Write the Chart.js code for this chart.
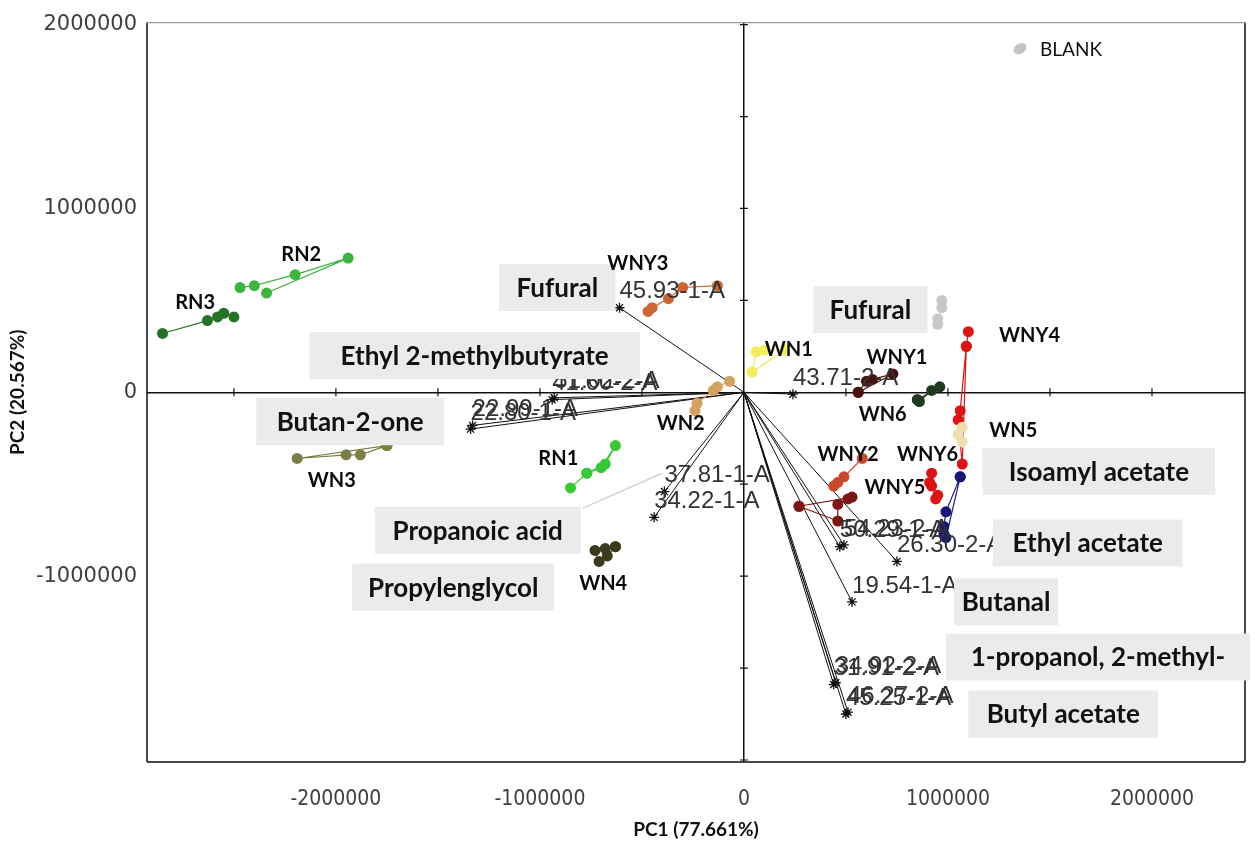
<!DOCTYPE html>
<html>
<head>
<meta charset="utf-8">
<script src="https://cdn.jsdelivr.net/npm/chart.js@4.4.0/dist/chart.umd.min.js"></script>
<style>
  html, body { margin: 0; padding: 0; background: #fff; }
  #wrap { width: 1255px; height: 845px; }
</style>
</head>
<body>
<div id="wrap"><canvas id="pca" width="1255" height="845"></canvas></div>
<script>
// sample scores [PC1, PC2]
const rn1 = [[-850000, -520000], [-770000, -440000], [-700000, -410000], [-630000, -290000], [-680000, -390000], [-770000, -440000]];
const rn2 = [[-2340000, 540000], [-1940000, 730000], [-2200000, 640000], [-2400000, 580000], [-2470000, 570000]];
const rn3 = [[-2850000, 320000], [-2630000, 390000], [-2580000, 410000], [-2550000, 430000], [-2500000, 410000]];
const wn1 = [[200000, 230000], [40000, 110000], [60000, 220000], [100000, 230000], [200000, 230000]];
const wn2 = [[-70000, 60000], [-130000, 30000], [-150000, 10000], [-230000, -60000], [-240000, -100000]];
const wn3 = [[-1750000, -290000], [-2190000, -360000], [-1950000, -340000], [-1880000, -340000], [-1750000, -290000]];
const wn4 = [[-630000, -840000], [-680000, -850000], [-730000, -860000], [-710000, -920000], [-670000, -890000], [-630000, -840000]];
const wn5 = [[1050000, -230000], [1070000, -270000], [1070000, -190000]];
const wn6 = [[850000, -40000], [860000, -50000], [920000, 10000], [960000, 30000], [850000, -40000]];
const wny1 = [[560000, 0], [730000, 100000], [630000, 70000], [600000, 60000], [560000, 0]];
const wny2 = [[580000, -360000], [490000, -460000], [460000, -490000], [440000, -510000]];
const wny3 = [[-470000, 440000], [-450000, 460000], [-370000, 510000], [-300000, 570000], [-130000, 580000]];
const wny4 = [[1100000, 330000], [1090000, 250000], [1060000, -100000], [1050000, -150000], [1070000, -390000], [1090000, 250000]];
const wny5 = [[270000, -620000], [530000, -570000], [510000, -580000], [460000, -610000], [460000, -700000], [270000, -620000]];
const wny6 = [[920000, -440000], [910000, -490000], [920000, -510000], [950000, -560000], [940000, -580000]];
const wnyBlue = [[1060000, -460000], [990000, -650000], [980000, -730000], [980000, -770000], [990000, -790000], [1060000, -460000]];
const blank = [[970000, 500000], [970000, 460000], [950000, 400000], [950000, 370000]];

const groups = [rn1, rn2, rn3, wn1, wn2, wn3, wn4, wn5, wn6, wny1, wny2, wny3, wny4, wny5, wny6, wnyBlue, blank];
const groupColors = ['#35c935', '#3cb53c', '#257325', '#f2ee5a', '#d6a15e', '#7d7d45', '#3b3b1c', '#efdfae', '#1f3b1f',
  '#4a1010', '#c9492a', '#cc6633', '#dd1414', '#7f1616', '#dd1414', '#17177a', '#c8c8c8'];

// loading vectors
const loadingNames = ['45.93-1-A', '22.80-1-A', '22.99-1-A', '41.60-2-A', '51.02-2-A', '37.81-1-A', '34.22-1-A', '43.71-2-A',
  '50.29-1-A', '54.23-2-A', '26.30-2-A', '19.54-1-A', '31.91-2-A', '34.92-2-A', '45.25-1-A', '46.27-2-A'];
const loadingPC1 = [-610000, -1340000, -1330000, -940000, -930000, -390000, -440000, 240000,
  470000, 490000, 750000, 530000, 440000, 450000, 500000, 510000];
const loadingPC2 = [460000, -200000, -180000, -40000, -30000, -540000, -680000, -10000,
  -840000, -830000, -920000, -1140000, -1590000, -1580000, -1750000, -1740000];

// group names on the plot
const groupLabelNames = ['RN2', 'RN3', 'WN3', 'WNY3', 'WN2', 'RN1', 'WN4', 'WN1', 'WNY1', 'WN6', 'WNY4', 'WN5', 'WNY6', 'WNY2', 'WNY5'];
const groupLabelPC1 = [-2170000, -2690000, -2020000, -520000, -310000, -910000, -690000, 220000, 750000, 680000, 1400000, 1320000, 900000, 510000, 740000];
const groupLabelPC2 = [750000, 490000, -480000, 700000, -170000, -360000, -1040000, 230000, 190000, -120000, 310000, -210000, -340000, -340000, -520000];

// compound names in grey boxes
const noteTexts = ['Fufural', 'Ethyl 2-methylbutyrate', 'Butan-2-one', 'Propanoic acid', 'Propylenglycol', 'Fufural',
  'Isoamyl acetate', 'Ethyl acetate', 'Butanal', '1-propanol, 2-methyl-', 'Butyl acetate'];
const noteLeft = [-1200000, -2130000, -2390000, -1810000, -1920000, 340000, 1170000, 1220000, 1030000, 990000, 1100000];
const noteRight = [-630000, -510000, -1470000, -800000, -930000, 900000, 2310000, 2150000, 1540000, 2480000, 2030000];
const noteY = [570000, 200000, -160000, -750000, -1060000, 450000, -430000, -820000, -1140000, -1440000, -1750000];

// leader from "Propanoic acid" to 37.81-1-A
const leader = [[-790000, -630000], [-400000, -440000]];

const xTicks = [-2000000, -1000000, 0, 1000000, 2000000];
const yTicks = [-1000000, 0, 1000000, 2000000];

const toPts = arr => arr.map(p => ({ x: p[0], y: p[1] }));

const datasets = [];
groups.forEach((g, i) => {
  datasets.push({
    data: toPts(g),
    showLine: true,
    borderColor: groupColors[i],
    backgroundColor: groupColors[i],
    borderWidth: 1.2,
    pointRadius: 5.5,
    pointBorderWidth: 0,
    order: 1
  });
});
loadingNames.forEach((n, i) => {
  datasets.push({
    label: n,
    data: [{ x: 0, y: 0 }, { x: loadingPC1[i], y: loadingPC2[i] }],
    showLine: true,
    borderColor: '#111',
    backgroundColor: '#111',
    borderWidth: 1,
    pointStyle: 'star',
    pointRadius: c => c.dataIndex === 0 ? 0 : 5,
    pointBorderWidth: 1.3,
    pointBorderColor: '#111',
    order: 2
  });
});
datasets.push({
  data: toPts(leader),
  showLine: true,
  borderColor: '#d4d4d4',
  borderWidth: 1.5,
  pointRadius: 0,
  order: 3
});

const annot = {
  id: 'annot',
  beforeDatasetsDraw(chart) {
    const { ctx, chartArea: a, scales: { x, y } } = chart;
    const x0 = x.getPixelForValue(0), y0 = y.getPixelForValue(0);
    ctx.save();
    ctx.strokeStyle = '#111';
    ctx.lineWidth = 1.2;
    ctx.beginPath();
    for (let v = -3000000; v <= 3000000; v += 500000) {
      if (v === 0) continue;
      const px = x.getPixelForValue(v);
      if (px > a.left + 2 && px < a.right - 2) { ctx.moveTo(px, y0 - 4); ctx.lineTo(px, y0 + 4); }
      const py = y.getPixelForValue(v);
      if (py > a.top + 2 && py < a.bottom - 2) { ctx.moveTo(x0 - 4, py); ctx.lineTo(x0 + 4, py); }
    }
    ctx.stroke();
    ctx.lineWidth = 1.5;
    ctx.strokeRect(a.left, a.bottom, a.right - a.left, 0);
    ctx.beginPath();
    ctx.moveTo(a.left, a.top); ctx.lineTo(a.left, a.bottom);
    ctx.moveTo(a.right, a.top); ctx.lineTo(a.right, a.bottom);
    ctx.stroke();
    ctx.strokeStyle = '#9a9a9a';
    ctx.lineWidth = 1.2;
    ctx.beginPath();
    ctx.moveTo(a.left, a.top); ctx.lineTo(a.right, a.top);
    ctx.stroke();
    ctx.restore();
  },
  afterDatasetsDraw(chart) {
    const { ctx, chartArea: a, scales: { x, y } } = chart;
    ctx.save();
    // vector labels
    ctx.font = '24px "Liberation Sans", Arial, sans-serif';
    ctx.fillStyle = '#333';
    ctx.textBaseline = 'middle';
    ctx.textAlign = 'left';
    loadingNames.forEach((n, i) => {
      ctx.fillText(n, x.getPixelForValue(loadingPC1[i]), y.getPixelForValue(loadingPC2[i]) - 16);
    });
    // grey boxes
    ctx.font = 'bold 26px Lato, "Open Sans", sans-serif';
    ctx.textAlign = 'center';
    noteTexts.forEach((t, i) => {
      const l = x.getPixelForValue(noteLeft[i]);
      const r = x.getPixelForValue(noteRight[i]);
      const cy = y.getPixelForValue(noteY[i]);
      ctx.fillStyle = '#ebebeb';
      ctx.fillRect(l, cy - 23.5, r - l, 47);
      ctx.fillStyle = '#111';
      ctx.fillText(t, (l + r) / 2, cy + 1);
    });
    // group names
    ctx.font = 'bold 20px Lato, "Open Sans", sans-serif';
    ctx.fillStyle = '#0a0a0a';
    groupLabelNames.forEach((n, i) => {
      ctx.fillText(n, x.getPixelForValue(groupLabelPC1[i]), y.getPixelForValue(groupLabelPC2[i]));
    });
    // legend
    ctx.fillStyle = '#c4c4c4';
    ctx.beginPath();
    ctx.ellipse(a.right - 225, a.top + 26, 7, 5, -0.6, 0, Math.PI * 2);
    ctx.fill();
    ctx.font = '19px Lato, "Open Sans", sans-serif';
    ctx.fillStyle = '#111';
    ctx.textAlign = 'left';
    ctx.fillText('BLANK', a.right - 205, a.top + 27);
    ctx.restore();
  }
};

const zeroGrid = c => (c.tick && c.tick.value === 0) ? '#111' : 'rgba(0,0,0,0)';

new Chart(document.getElementById('pca'), {
  type: 'scatter',
  data: { datasets },
  options: {
    responsive: false,
    animation: false,
    devicePixelRatio: 1,
    layout: { padding: { top: 18, right: 10, left: 0, bottom: 0 } },
    plugins: { legend: { display: false }, tooltip: { enabled: false } },
    scales: {
      x: {
        type: 'linear',
        min: -2926000,
        max: 2456000,
        afterBuildTicks: s => { s.ticks = xTicks.map(v => ({ value: v })); },
        afterFit: s => { s.height = 83; },
        border: { display: false },
        grid: { color: zeroGrid, lineWidth: 1.5, drawTicks: false },
        ticks: {
          padding: 25,
          color: '#404040',
          font: { family: '"DejaVu Sans Condensed", "Liberation Sans Narrow", sans-serif', size: 21 },
          maxRotation: 0,
          autoSkip: false,
          callback: v => String(v)
        },
        title: {
          display: true,
          text: 'PC1 (77.661%)',
          color: '#111',
          font: { family: 'Lato, "Open Sans", sans-serif', size: 19, weight: 'bold' },
          padding: { top: 4, bottom: 4 }
        }
      },
      y: {
        type: 'linear',
        min: -2011000,
        max: 2011000,
        afterBuildTicks: s => { s.ticks = yTicks.map(v => ({ value: v })); },
        afterFit: s => { s.width = 147; },
        border: { display: false },
        grid: { color: zeroGrid, lineWidth: 1.5, drawTicks: false },
        ticks: {
          padding: 10,
          color: '#404040',
          font: { family: '"DejaVu Sans", sans-serif', size: 21 },
          autoSkip: false,
          callback: v => String(v)
        },
        title: {
          display: true,
          text: 'PC2 (20.567%)',
          color: '#111',
          font: { family: 'Lato, "Open Sans", sans-serif', size: 19, weight: 'bold' },
          padding: { top: 6, bottom: 4 }
        }
      }
    }
  },
  plugins: [annot]
});
</script>
</body>
</html>
